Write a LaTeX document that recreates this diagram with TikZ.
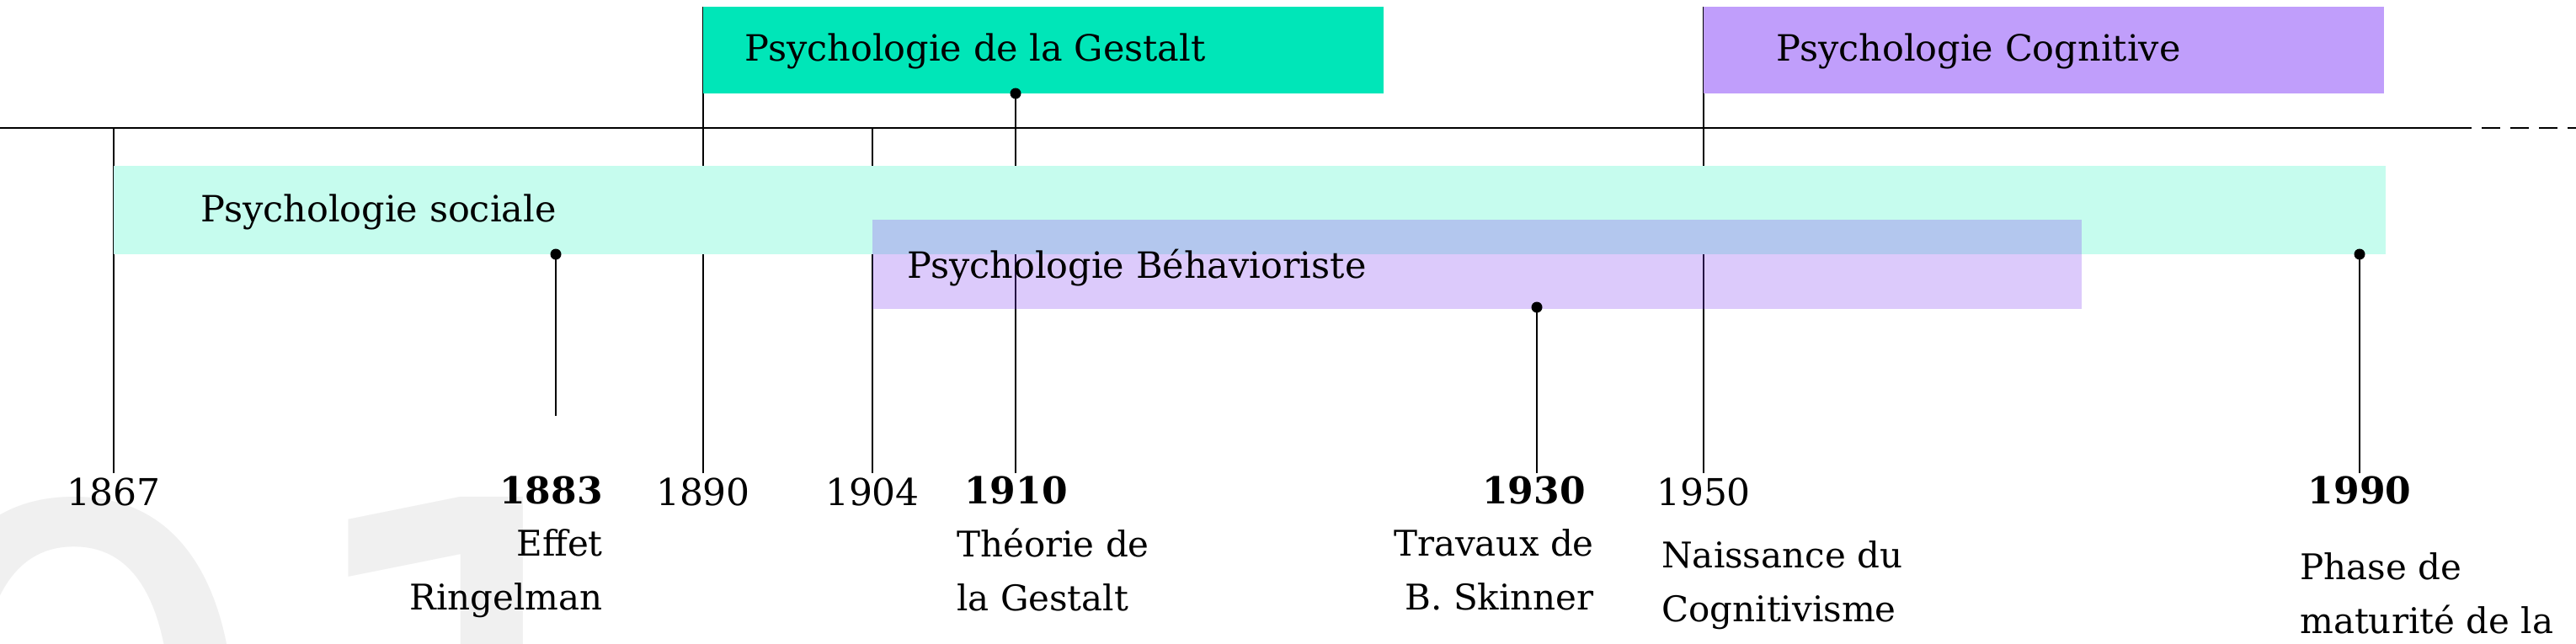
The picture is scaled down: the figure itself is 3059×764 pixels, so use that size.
\documentclass[tikz,border=0pt]{standalone}
\usepackage{fontspec}
\setmainfont{DejaVu Serif}
\newfontfamily\wmfont{DejaVu Sans}
\definecolor{gest}{RGB}{0,230,184}
\definecolor{cogn}{RGB}{192,158,251}
\definecolor{soci}{RGB}{198,252,238}
\definecolor{behav}{RGB}{131,63,239}
\definecolor{wm}{RGB}{240,240,240}
\begin{document}
\begin{tikzpicture}[x=1pt,y=-1pt,
  bar/.style={draw=none,inner sep=0pt,anchor=north west},
  btxt/.style={anchor=west,inner sep=0pt,font=\fontsize{43}{50}\selectfont},
  yr/.style={inner sep=0pt,font=\fontsize{44}{52}\selectfont},
  byr/.style={inner sep=0pt,font=\fontsize{44}{52}\selectfont\bfseries},
  desc/.style={inner sep=0pt,font=\fontsize{42}{64}\selectfont},
  tick/.style={line width=2pt,black},
  dot/.style={circle,fill=black,inner sep=0pt,minimum size=13pt}]
\useasboundingbox (0,0) rectangle (3059,764);
\begin{scope}
\clip (0,0) rectangle (3059,764);
\node[anchor=north east,inner sep=0pt,text=wm,font=\fontsize{760}{760}\selectfont\wmfont] (w0) at (330,590) {0};
\node[anchor=north west,inner sep=0pt,text=wm,font=\fontsize{760}{760}\selectfont\wmfont] (w1) at (330,590) {1};
\end{scope}
% timeline
\coordinate (tl0) at (0,152);
\coordinate (tl1) at (2913,152);
\coordinate (tl2) at (3059,152);
\draw[line width=2pt] (tl0) -- (tl1);
\draw[line width=2pt,dash pattern=on 22pt off 12pt] (tl1) -- (tl2);
% ticks
\coordinate (t1867) at (135,152);
\coordinate (t1890) at (835,8);
\coordinate (t1904) at (1036,152);
\coordinate (t1950) at (2023,8);
\node[yr,anchor=north] (y1867) at (135,568) {1867};
\node[yr,anchor=north] (y1890) at (835,568) {1890};
\node[yr,anchor=north] (y1904) at (1036,568) {1904};
\node[yr,anchor=north] (y1950) at (2023,568) {1950};
\draw[tick] (t1867) -- (135,562);
\draw[tick] (t1890) -- (835,562);
\draw[tick] (t1904) -- (1036,562);
\draw[tick] (t1950) -- (2023,562);
% event lines
\coordinate (e1883) at (660,302);
\coordinate (e1910) at (1206,111);
\coordinate (e1930) at (1825,365);
\coordinate (e1990) at (2802,302);
\draw[tick] (e1883) -- (660,494);
\draw[tick] (e1910) -- (1206,562);
\draw[tick] (e1930) -- (1825,562);
\draw[tick] (e1990) -- (2802,562);
% bars
\fill[gest] (835,8) rectangle (1643,111);
\fill[cogn] (2023,8) rectangle (2831,111);
\fill[soci] (135,197) rectangle (2833,302);
\fill[behav,opacity=0.28] (1036,261) rectangle (2472,367);
\node[btxt] (lg) at (884,61) {Psychologie de la Gestalt};
\node[btxt] (lc) at (2109,61) {Psychologie Cognitive};
\node[btxt] (ls) at (238,252) {Psychologie sociale};
\node[btxt] (lb) at (1077,318) {Psychologie Béhavioriste};
% dots
\node[dot] (d1883) at (e1883) {};
\node[dot] (d1910) at (e1910) {};
\node[dot] (d1930) at (e1930) {};
\node[dot] (d1990) at (e1990) {};
% event labels
\node[byr,anchor=north east] (y1883) at (716,566) {1883};
\node[byr,anchor=north west] (y1910) at (1145,566) {1910};
\node[byr,anchor=north east] (y1930) at (1883,566) {1930};
\node[byr,anchor=north] (y1990) at (2802,566) {1990};
\node[desc,anchor=north east,align=right] (x1883) at (716,628) {Effet\\Ringelman};
\node[desc,anchor=north west,align=left] (x1910) at (1136,628) {Théorie de\\la Gestalt};
\node[desc,anchor=north east,align=right] (x1930) at (1893,628) {Travaux de\\B. Skinner};
\node[desc,anchor=north west,align=left] (x1950) at (1973,642) {Naissance du\\Cognitivisme};
\node[desc,anchor=north west,align=left] (x1990) at (2731,656) {Phase de\\maturité de la};
\end{tikzpicture}
\end{document}
